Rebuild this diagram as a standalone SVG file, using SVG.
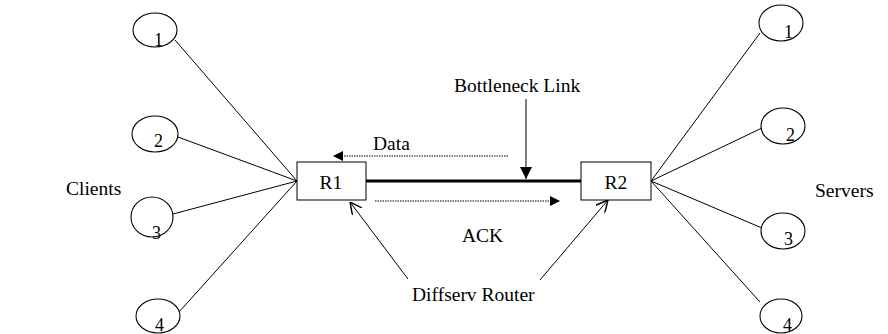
<svg xmlns="http://www.w3.org/2000/svg" width="888" height="334" viewBox="0 0 888 334">
  <defs>
    <style>
      .host { fill: #fff; stroke: #000; stroke-width: 1.1; }
      .box { fill: #fff; stroke: #000; stroke-width: 1; }
      .lbl { font-family: "Liberation Serif", "Times New Roman", serif; font-size: 19.5px; fill: #000; }
      .num { font-family: "Liberation Serif", "Times New Roman", serif; font-size: 18px; fill: #000; }
      .wire { stroke: #000; stroke-width: 1; fill: none; }
      .flow { stroke: #000; stroke-width: 1; stroke-dasharray: 1.5 1; fill: none; }
      .link { stroke: #000; stroke-width: 3; fill: none; }
    </style>
    <marker id="solidHead" viewBox="0 0 10 10" refX="10" refY="5" markerWidth="14" markerHeight="10" markerUnits="userSpaceOnUse" orient="auto">
      <path d="M0,0 L10,5 L0,10 Z" fill="#000"/>
    </marker>
    <marker id="bigHead" viewBox="0 0 10 10" refX="10" refY="5" markerWidth="12" markerHeight="12" markerUnits="userSpaceOnUse" orient="auto">
      <path d="M0,0 L10,5 L0,10 Z" fill="#000"/>
    </marker>
    <marker id="openHead" viewBox="0 0 10 10" refX="10" refY="5" markerWidth="12" markerHeight="12" markerUnits="userSpaceOnUse" orient="auto">
      <path d="M0,0 L10,5 L0,10" fill="none" stroke="#000" stroke-width="1.2"/>
    </marker>
  </defs>

  <rect width="888" height="334" fill="#fff"/>

  <!-- links between hosts and routers -->
  <g id="connectors">
    <line class="wire" x1="175" y1="40" x2="297" y2="181"/>
    <line class="wire" x1="178" y1="137" x2="297" y2="181"/>
    <line class="wire" x1="173" y1="214" x2="297" y2="181"/>
    <line class="wire" x1="179" y1="312" x2="297" y2="181"/>
    <line class="wire" x1="651" y1="181" x2="760" y2="33"/>
    <line class="wire" x1="651" y1="181" x2="762" y2="128"/>
    <line class="wire" x1="651" y1="181" x2="762" y2="228"/>
    <line class="wire" x1="651" y1="181" x2="760" y2="302"/>
    <!-- bottleneck link -->
    <line class="link" x1="366" y1="181" x2="581" y2="181"/>
    <line class="wire" x1="526" y1="99" x2="526" y2="179" stroke-width="1.5" marker-end="url(#bigHead)"/>
    <!-- traffic directions -->
    <line class="flow" x1="508" y1="156" x2="333" y2="156" marker-end="url(#solidHead)"/>
    <line class="flow" x1="375" y1="201" x2="560" y2="201" marker-end="url(#solidHead)"/>
    <!-- router pointers -->
    <line class="wire" x1="408" y1="279" x2="350" y2="202" marker-end="url(#openHead)"/>
    <line class="wire" x1="540" y1="280" x2="608" y2="200" marker-end="url(#openHead)"/>
  </g>

  <!-- clients -->
  <g id="client1"><ellipse class="host" cx="155" cy="30" rx="22" ry="17"/><text class="num" x="154" y="46">1</text></g>
  <g id="client2"><ellipse class="host" cx="155" cy="134" rx="23" ry="18"/><text class="num" x="154" y="147">2</text></g>
  <g id="client3"><ellipse class="host" cx="152" cy="217" rx="21" ry="20"/><text class="num" x="152" y="239">3</text></g>
  <g id="client4"><ellipse class="host" cx="158" cy="316" rx="22" ry="17"/><text class="num" x="155" y="331">4</text></g>

  <!-- servers -->
  <g id="server1"><ellipse class="host" cx="781" cy="23" rx="22" ry="18"/><text class="num" x="784" y="38">1</text></g>
  <g id="server2"><ellipse class="host" cx="783" cy="126" rx="22" ry="18"/><text class="num" x="786" y="141">2</text></g>
  <g id="server3"><ellipse class="host" cx="783" cy="231" rx="22" ry="18"/><text class="num" x="784" y="245">3</text></g>
  <g id="server4"><ellipse class="host" cx="781" cy="316" rx="21" ry="17"/><text class="num" x="783" y="331">4</text></g>

  <!-- routers -->
  <g id="R1"><rect class="box" x="297" y="162" width="69" height="38"/><text class="lbl" x="331" y="189" text-anchor="middle">R1</text></g>
  <g id="R2"><rect class="box" x="581" y="162" width="70" height="38"/><text class="lbl" x="616" y="189" text-anchor="middle">R2</text></g>

  <!-- labels -->
  <g id="labels">
    <text class="lbl" x="66" y="195">Clients</text>
    <text class="lbl" x="815" y="197">Servers</text>
    <text class="lbl" x="454" y="92">Bottleneck Link</text>
    <text class="lbl" x="373" y="150">Data</text>
    <text class="lbl" x="462" y="242">ACK</text>
    <text class="lbl" x="412" y="301">Diffserv Router</text>
  </g>
</svg>
